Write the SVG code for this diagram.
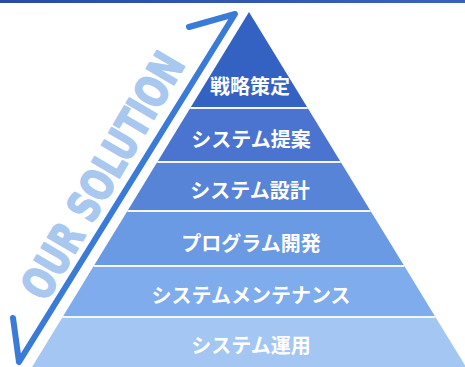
<svg xmlns="http://www.w3.org/2000/svg" width="465" height="367" viewBox="0 0 465 367">
  <defs>
    <linearGradient id="topbar" x1="0" y1="0" x2="1" y2="0">
      <stop offset="0" stop-color="#2c4aa3"/>
      <stop offset="1" stop-color="#3a62bd"/>
    </linearGradient>
    <style>
      .lbl { font-family: "Noto Sans CJK JP", "Noto Sans CJK SC", sans-serif; font-weight: bold; font-size: 20px; fill: #ffffff; text-anchor: middle; }
      .sep { stroke: #f2f7fd; stroke-width: 1.8; fill: none; }
      .arrow { stroke: #3a7bd8; stroke-width: 6; fill: none; stroke-linejoin: round; stroke-linecap: round; }
      .slogan { font-family: "Liberation Sans Narrow", "DejaVu Sans Condensed", "Liberation Sans", sans-serif; font-weight: bold; font-size: 44px; fill: #a8c8ef; stroke: #a8c8ef; stroke-width: 1.6; stroke-linejoin: round; }
    </style>
  </defs>
  <rect x="0" y="0" width="465" height="367" fill="#ffffff"/>
  <rect x="0" y="0" width="465" height="3" fill="url(#topbar)"/>

  <g id="slogan">
    <text class="slogan" transform="translate(46,303) rotate(-59.6)" x="0" y="0" textLength="277" lengthAdjust="spacingAndGlyphs">OUR SOLUTION</text>
  </g>

  <g id="connectors">
    <path class="arrow" d="M189,27 L235,14 L19,362 L13,318"/>
  </g>

  <g id="layer1">
    <polygon points="249,12 307.7,108 190.3,108" fill="#3462c2"/>
    <text class="lbl" x="250" y="94">戦略策定</text>
  </g>
  <g id="layer2">
    <polygon points="190.3,108 307.7,108 340.7,162 157.3,162" fill="#4a74cf"/>
    <text class="lbl" x="251" y="146.5">システム提案</text>
  </g>
  <g id="layer3">
    <polygon points="157.3,162 340.7,162 370.6,211 127.4,211" fill="#5784d7"/>
    <text class="lbl" x="250" y="198">システム設計</text>
  </g>
  <g id="layer4">
    <polygon points="127.4,211 370.6,211 404.3,266 93.7,266" fill="#6a9ae3"/>
    <text class="lbl" x="251" y="251">プログラム開発</text>
  </g>
  <g id="layer5">
    <polygon points="93.7,266 404.3,266 435.4,317 62.6,317" fill="#7eacec"/>
    <text class="lbl" x="251" y="303">システムメンテナンス</text>
  </g>
  <g id="layer6">
    <polygon points="62.6,317 435.4,317 466,367 32,367" fill="#a3c7f2"/>
    <text class="lbl" x="251" y="353">システム運用</text>
  </g>

  <g id="separators">
    <line class="sep" x1="190.3" y1="108" x2="307.7" y2="108"/>
    <line class="sep" x1="157.3" y1="162" x2="340.7" y2="162"/>
    <line class="sep" x1="127.4" y1="211" x2="370.6" y2="211"/>
    <line class="sep" x1="93.7" y1="266" x2="404.3" y2="266"/>
    <line class="sep" x1="62.6" y1="317" x2="435.4" y2="317"/>
  </g>
</svg>
